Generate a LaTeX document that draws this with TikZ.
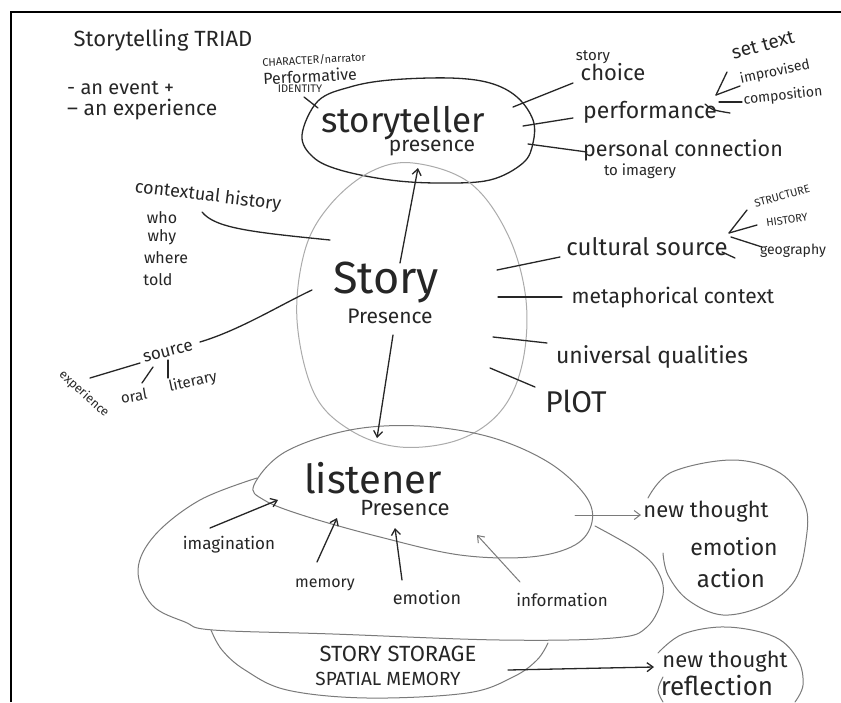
\documentclass[tikz,border=0pt]{standalone}
\usepackage{fontspec}
\setmainfont{Fira Sans}
\usetikzlibrary{arrows.meta}
\definecolor{ink}{HTML}{262626}
\definecolor{pencil}{HTML}{7A7A7A}
\definecolor{faint}{HTML}{ABABAB}
\newcommand{\hsz}[1]{\fontsize{#1}{#1}\selectfont}
\tikzset{
  hand/.style={text=ink, inner sep=0pt},
  inkline/.style={draw=ink, line width=1.3pt, line cap=round, line join=round},
  penline/.style={draw=pencil, line width=1pt, line cap=round},
  faintline/.style={draw=faint, line width=1pt},
  harrow/.style={inkline, -{Straight Barb[length=6pt,width=9pt]}},
  parrow/.style={penline, -{Straight Barb[length=6pt,width=9pt]}},
}
\begin{document}
\begin{tikzpicture}[x=1pt,y=-1pt]
\useasboundingbox (0,0) rectangle (841,702);
\fill[white] (0,0) rectangle (841,702);
% frame
\draw[line width=2.4pt, black] (11,702) -- (11,12) -- (841,12);

% ---- shapes
\draw[inkline] plot[smooth cycle, tension=0.6] coordinates {(302,135) (318,101) (350,87) (390,80) (450,78) (490,83) (517,97) (533,120) (533,143) (523,163) (490,180) (440,183) (390,180) (340,170) (313,157)};
\draw[faintline] plot[smooth cycle, tension=0.6] coordinates {(413,163) (470,183) (508,235) (526,300) (522,365) (500,412) (458,440) (400,447) (350,430) (314,393) (297,320) (305,250) (330,205) (370,172)};
\draw[penline] plot[smooth cycle, tension=0.6] coordinates {(254,485) (285,452) (350,430) (420,426) (490,437) (548,462) (585,495) (592,522) (575,545) (530,557) (460,555) (380,537) (305,516) (264,500)};
\draw[penline] plot[smooth, tension=0.6] coordinates {(257,478) (200,500) (155,535) (138,570) (152,605) (185,622) (213,630) (333,634) (500,640) (613,638) (647,627) (663,595) (657,570) (637,550) (595,526)};
\draw[penline] plot[smooth, tension=0.6] coordinates {(211,630) (222,650) (245,670) (287,690) (367,698) (467,693) (513,677) (537,660) (548,643)};
\draw[penline] plot[smooth, tension=0.6] coordinates {(648,498) (672,472) (733,460) (780,473) (805,505) (806,540) (795,580) (765,605) (723,615) (688,600) (668,575) (663,553)};
\draw[penline] plot[smooth, tension=0.6] coordinates {(658,653) (683,634) (727,627) (775,637) (798,660) (803,685) (795,702)};
\draw[penline] plot[smooth, tension=0.6] coordinates {(663,677) (658,690) (663,702)};

% ---- texts
\node[hand, font=\hsz{22}] (title) at (163,40) {Storytelling TRIAD};
\node[hand, font=\hsz{20}, anchor=west] (event) at (67,88) {- an event +};
\node[hand, font=\hsz{21}, anchor=west] (exper) at (67,110) {– an experience};
\node[hand, font=\hsz{11}, rotate=3] (charn) at (314,60) {CHARACTER/narrator};
\node[hand, font=\hsz{16}, rotate=3] (perfid) at (310,76) {Performative};
\node[hand, font=\hsz{11}] (ident) at (300,89) {IDENTITY};
\node[hand, font=\hsz{35}] (teller) at (403,123) {storyteller};
\node[hand, font=\hsz{21}] (tellerp) at (432,148) {presence};
\node[hand, font=\hsz{15}] (storyw) at (593,57) {story};
\node[hand, font=\hsz{22}] (choice) at (613,72) {choice};
\node[hand, font=\hsz{23}] (perf) at (650,112) {performance};
\node[hand, font=\hsz{19}, rotate=15] (settext) at (763,45) {set text};
\node[hand, font=\hsz{14}, rotate=12] (improv) at (775,72) {improvised};
\node[hand, font=\hsz{14}, rotate=6] (compo) at (783,96) {composition};
\node[hand, font=\hsz{21.5}] (persc) at (683,150) {personal connection};
\node[hand, font=\hsz{15}] (imagery) at (640,171) {to imagery};
\node[hand, font=\hsz{11}, rotate=15] (structw) at (782,196) {STRUCTURE};
\node[hand, font=\hsz{11}, rotate=8] (histw) at (787,220) {HISTORY};
\node[hand, font=\hsz{14}] (geog) at (793,251) {geography};
\node[hand, font=\hsz{24}] (cult) at (647,247) {cultural source};
\node[hand, font=\hsz{21}] (meta) at (673,298) {metaphorical context};
\node[hand, font=\hsz{23}] (univ) at (652,357) {universal qualities};
\node[hand, font=\hsz{30}] (plot) at (576,401) {PlOT};
\node[hand, font=\hsz{18}, rotate=-7] (context) at (208,196) {contextual history};
\node[hand, font=\hsz{16}] (who) at (162,218) {who};
\node[hand, font=\hsz{16}] (why) at (162,237) {why};
\node[hand, font=\hsz{16}] (where) at (166,258) {where};
\node[hand, font=\hsz{16}] (told) at (158,280) {told};
\node[hand, font=\hsz{17}, rotate=15] (source) at (168,352) {source};
\node[hand, font=\hsz{12.5}, rotate=-42] (experw) at (84,394) {experience};
\node[hand, font=\hsz{15}, rotate=10] (oral) at (134,396) {oral};
\node[hand, font=\hsz{15}, rotate=12] (liter) at (193,382) {literary};
\node[hand, font=\hsz{45}] (story) at (386,283) {Story};
\node[hand, font=\hsz{21}] (storyp) at (390,316) {Presence};
\node[hand, font=\hsz{40}] (listener) at (373,478) {listener};
\node[hand, font=\hsz{22}] (listp) at (405,508) {Presence};
\node[hand, font=\hsz{17}] (imag) at (229,545) {imagination};
\node[hand, font=\hsz{16}] (memory) at (325,585) {memory};
\node[hand, font=\hsz{18}] (emot) at (427,598) {emotion};
\node[hand, font=\hsz{17}] (info) at (562,600) {information};
\node[hand, font=\hsz{22}] (nt1) at (706,512) {new thought};
\node[hand, font=\hsz{23}] (emot2) at (734,547) {emotion};
\node[hand, font=\hsz{24}] (action) at (731,578) {action};
\node[hand, font=\hsz{22}] (storage) at (398,654) {STORY STORAGE};
\node[hand, font=\hsz{19}] (spatial) at (388,679) {SPATIAL MEMORY};
\node[hand, font=\hsz{22}] (nt2) at (725,662) {new thought};
\node[hand, font=\hsz{26}] (reflect) at (717,686) {reflection};

% ---- connector end points
\coordinate (idA) at (304,97);   \coordinate (idB) at (318,108);
\coordinate (chA) at (513,107);  \coordinate (chB) at (573,83);
\coordinate (pfA) at (523,126);  \coordinate (pfB) at (573,118);
\coordinate (pcA) at (528,144);  \coordinate (pcB) at (587,152);
\coordinate (brP) at (716,95);
\coordinate (stA) at (727,72);   \coordinate (imA) at (740,86);  \coordinate (coA) at (742,102);
\coordinate (brC) at (729,233);
\coordinate (suA) at (747,210);  \coordinate (hiA) at (757,225); \coordinate (geA) at (762,247);
\coordinate (cuA) at (497,270);  \coordinate (cuB) at (560,257);
\coordinate (meA) at (498,297);  \coordinate (meB) at (562,297);
\coordinate (unA) at (493,337);  \coordinate (unB) at (547,343);
\coordinate (plA) at (490,368);  \coordinate (plB) at (535,387);
\coordinate (cxA) at (202,212);  \coordinate (cxB) at (330,240);
\coordinate (soA) at (200,342);  \coordinate (soB) at (312,290);
\coordinate (exA) at (90,378);   \coordinate (exB) at (140,363);
\coordinate (orA) at (142,383);  \coordinate (orB) at (153,367);
\coordinate (liA) at (168,378);  \coordinate (liB) at (168,360);
\coordinate (upA) at (400,263);  \coordinate (upB) at (418,168);
\coordinate (dnA) at (393,335);  \coordinate (dnB) at (377,438);
\coordinate (igA) at (210,528);  \coordinate (igB) at (278,500);
\coordinate (mmA) at (317,562);  \coordinate (mmB) at (337,518);
\coordinate (emA) at (402,580);  \coordinate (emB) at (395,528);
\coordinate (inA) at (520,582);  \coordinate (inB) at (477,535);
\coordinate (ltA) at (575,515);  \coordinate (ltB) at (641,515);
\coordinate (ssA) at (508,670);  \coordinate (ssB) at (654,667);

% ---- connectors
\draw[inkline] (idA) -- (idB);
\draw[inkline] (chA) -- (chB);
\draw[inkline] (pfA) -- (pfB);
\draw[inkline] (pcA) -- (pcB);
\draw[inkline] (brP) -- (stA);
\draw[inkline] (brP) -- (imA);
\draw[inkline] (brP) ++(3,7) -- (coA);
\draw[inkline] (705,104) .. controls (712,110) .. (730,113);
\draw[inkline] (brC) -- (suA);
\draw[inkline] (brC) -- (hiA);
\draw[inkline] (brC) ++(2,4) -- (geA);
\draw[inkline] (722,252) -- (735,258);
\draw[inkline] (cuA) -- (cuB);
\draw[inkline] (meA) -- (meB);
\draw[inkline] (unA) -- (unB);
\draw[inkline] (plA) -- (plB);
\draw[inkline] (cxA) .. controls (215,228) and (250,232) .. (cxB);
\draw[inkline] (soA) .. controls (240,330) and (280,305) .. (soB);
\draw[inkline] (exA) -- (exB);
\draw[inkline] (orA) -- (orB);
\draw[inkline] (liA) -- (liB);
\draw[harrow] (upA) -- (upB);
\draw[harrow] (dnA) -- (dnB);
\draw[harrow] (igA) -- (igB);
\draw[harrow] (mmA) -- (mmB);
\draw[harrow] (emA) -- (emB);
\draw[parrow] (inA) -- (inB);
\draw[parrow] (ltA) -- (ltB);
\draw[harrow] (ssA) -- (ssB);
\end{tikzpicture}
\end{document}
